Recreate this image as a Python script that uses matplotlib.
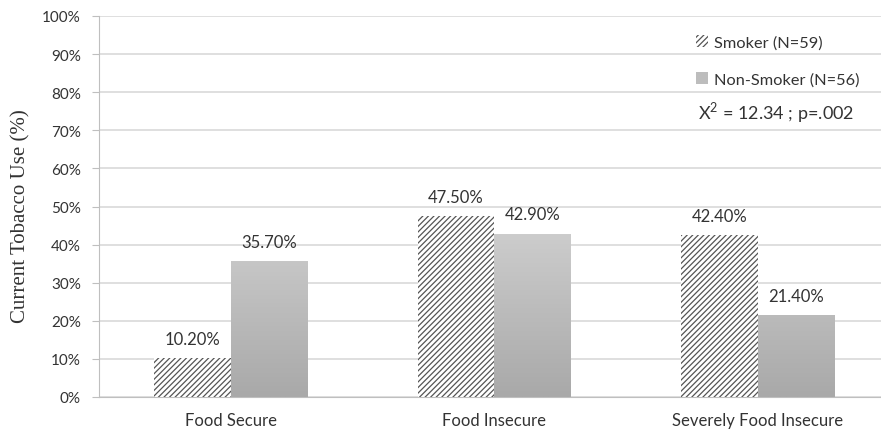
import numpy as np
import matplotlib.pyplot as plt
from matplotlib.patches import Patch
from matplotlib.colors import LinearSegmentedColormap

categories = ["Food Secure", "Food Insecure", "Severely Food Insecure"]
smoker = [10.2, 47.5, 42.4]
non_smoker = [35.7, 42.9, 21.4]
smoker_label = "Smoker (N=59)"
non_smoker_label = "Non-Smoker (N=56)"
stat_text = "X$^2$ = 12.34 ; p=.002"

plt.rcParams["hatch.color"] = "#555555"
plt.rcParams["hatch.linewidth"] = 0.9
plt.rcParams["mathtext.fontset"] = "custom"
plt.rcParams["mathtext.rm"] = "Lato"

fig = plt.figure(figsize=(8.81, 4.39), dpi=100)
ax = fig.add_axes([99 / 881, 1 - 398 / 439, 782 / 881, (398 - 17) / 439])

x = np.arange(len(categories))
w = 0.29
txt = "#333333"

ax.bar(x - w / 2, smoker, w, color="white", hatch="//////", edgecolor="#555555",
       linewidth=0, zorder=3)

grad = LinearSegmentedColormap.from_list("g", ["#a9a9a9", "#d2d2d2"])
bars = ax.bar(x + w / 2, non_smoker, w, color="none", linewidth=0, zorder=3)
for b in bars:
    x0, y0 = b.get_x(), b.get_y()
    x1, y1 = x0 + b.get_width(), y0 + b.get_height()
    im = ax.imshow(np.linspace(0, 1, 100).reshape(-1, 1), cmap=grad, origin="lower",
                   extent=[x0, x1, 0, 50], aspect="auto", zorder=3)
    im.set_clip_path(b)

for xi, v in zip(x - w / 2, smoker):
    ax.text(xi, v + 3, f"{v:.2f}%", ha="center", va="bottom", fontsize=12,
            color=txt, family="Lato")
for xi, v in zip(x + w / 2, non_smoker):
    ax.text(xi, v + 3, f"{v:.2f}%", ha="center", va="bottom", fontsize=12,
            color=txt, family="Lato")

ax.set_xlim(-0.5, 2.467)
ax.set_ylim(0, 100)
ax.set_yticks(np.arange(0, 101, 10))
ax.set_yticklabels([f"{t}%" for t in range(0, 101, 10)])
ax.set_xticks(x)
ax.set_xticklabels(categories)
for lab in ax.get_yticklabels():
    lab.set_family("Lato")
    lab.set_fontsize(11)
    lab.set_color(txt)
for lab in ax.get_xticklabels():
    lab.set_family("Lato")
    lab.set_fontsize(12)
    lab.set_color(txt)
ax.tick_params(axis="x", length=0, pad=11)
ax.tick_params(axis="y", length=5, color="#bfbfbf", pad=8)
ax.yaxis.grid(True, color="#d9d9d9", linewidth=1.2, zorder=0)
ax.set_axisbelow(True)
for s in ["top", "right"]:
    ax.spines[s].set_visible(False)
ax.spines["left"].set_color("#bfbfbf")
ax.spines["bottom"].set_color("#bfbfbf")
ax.set_ylabel("Current Tobacco Use (%)", family="Liberation Serif", fontsize=15,
              color=txt)
ax.yaxis.set_label_coords(-0.088, 0.478)

handles = [Patch(facecolor="white", hatch="//////", edgecolor="#555555", linewidth=0),
           Patch(facecolor="#bdbdbd", linewidth=0)]
ax.legend(handles, [smoker_label, non_smoker_label], loc="upper left",
          bbox_to_anchor=(0.744, 0.99), frameon=False, handlelength=0.75,
          handleheight=0.75, handletextpad=0.4, labelspacing=1.4,
          prop={"family": "Lato", "size": 11.8}, labelcolor=txt)
ax.text(0.766, 0.75, stat_text, transform=ax.transAxes, fontsize=13,
        family="Lato", color=txt, va="center", ha="left")

fig.savefig("out.png", dpi=100)
